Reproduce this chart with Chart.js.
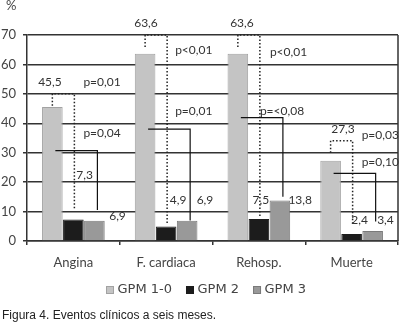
<!DOCTYPE html>
<html>
<head>
<meta charset="utf-8">
<script src="https://cdn.jsdelivr.net/npm/chart.js@4/dist/chart.umd.min.js"></script>
<style>
html,body{margin:0;padding:0;background:#fff;}
#wrap{width:400px;height:329px;position:relative;}
</style>
</head>
<body>
<div id="wrap"><canvas id="c" width="400" height="329"></canvas></div>
<script>
// ---- data ----
const categories = ['Angina', 'F. cardiaca', 'Rehosp.', 'Muerte'];
const seriesNames = ['GPM 1-0', 'GPM 2', 'GPM 3'];
const gpm10 = [45.5, 63.6, 63.6, 27.3];
const gpm2 = [7.3, 4.9, 7.5, 2.4];
const gpm3 = [6.9, 6.9, 13.8, 3.4];
const yTicks = [0, 10, 20, 30, 40, 50, 60, 70];
// p values: GPM 1-0 vs GPM 2 (dotted bracket) and GPM 1-0 vs GPM 3 (solid bracket)
const pVsGpm2 = ['p=0,01', 'p<0,01', 'p<0,01', 'p=0,03'];
const pVsGpm3 = ['p=0,04', 'p=0,01', 'p=<0,08', 'p=0,10'];
// bracket heights (in % units)
const bracketGpm2 = [50, 70, 70, 34.1];
const bracketGpm3 = [30.7, 38, 41.9, 23];
const yAxisUnit = '%';
const caption = 'Figura 4. Eventos clínicos a seis meses.';

// ---- layout of annotations (styling, not data) ----
const L = {
  v1dx: [-2.4, 0.9, 4.1, 12.4],
  pDotDx: [10, 9, 11, 10], pDotY: [54.0, 64.7, 64.3, 36.0],
  pSolDx: [10, 9, 1, 10], pSolY: [36.7, 44.3, 44.3, 26.7],
  v2dx: [11.3, 11.9, 2, 7.9], v2y: [22.4, 13.9, 13.9, 7.1],
  v3dx: [23.1, 17.8, 20.3, 12.8], v3y: [8.5, 13.9, 13.9, 7.1],
  dotEnd: [10.5, 6.1, 7.8, 5.4],
  solEnd: [10.5, 7, 15, 6.6]
};
const fmt = v => v.toFixed(1).replace('.', ',');
const FONT = 'Lato, "Open Sans", sans-serif';

const annotPlugin = {
  id: 'annot',
  beforeDatasetsDraw(chart) {
    const {ctx, chartArea} = chart;
    ctx.save();
    ctx.strokeStyle = '#333';
    ctx.lineWidth = 1.5;
    ctx.beginPath();
    ctx.moveTo(chartArea.right, chartArea.top);
    ctx.lineTo(chartArea.right, chartArea.bottom);
    ctx.stroke();
    ctx.restore();
  },
  afterDatasetsDraw(chart) {
    const {ctx} = chart;
    const ys = chart.scales.y;
    const m1 = chart.getDatasetMeta(0).data;
    const m2 = chart.getDatasetMeta(1).data;
    const m3 = chart.getDatasetMeta(2).data;
    ctx.save();
    ctx.font = '12px ' + FONT;
    ctx.fillStyle = '#333';
    ctx.textBaseline = 'middle';
    for (let i = 0; i < categories.length; i++) {
      const x1 = m1[i].x, x2 = m2[i].x, x3 = m3[i].x;
      // dotted bracket
      const yb = ys.getPixelForValue(bracketGpm2[i]);
      ctx.strokeStyle = '#222';
      ctx.lineWidth = 1.5;
      ctx.setLineDash([1.5, 2]);
      ctx.beginPath();
      ctx.moveTo(x1, yb + 12);
      ctx.lineTo(x1, yb);
      ctx.lineTo(x2 + 1, yb);
      ctx.lineTo(x2 + 1, ys.getPixelForValue(L.dotEnd[i]));
      ctx.stroke();
      // solid bracket
      const ysol = ys.getPixelForValue(bracketGpm3[i]);
      ctx.setLineDash([]);
      ctx.lineWidth = 1.2;
      ctx.strokeStyle = '#111';
      ctx.beginPath();
      ctx.moveTo(x1 + 3, ysol);
      ctx.lineTo(x3 + 3, ysol);
      ctx.lineTo(x3 + 3, ys.getPixelForValue(L.solEnd[i]));
      ctx.stroke();
      // texts
      ctx.textAlign = 'center';
      ctx.fillText(fmt(gpm10[i]), x1 + L.v1dx[i], yb - 12);
      ctx.fillText(fmt(gpm2[i]), x2 + L.v2dx[i], ys.getPixelForValue(L.v2y[i]));
      ctx.fillText(fmt(gpm3[i]), x3 + L.v3dx[i], ys.getPixelForValue(L.v3y[i]));
      ctx.textAlign = 'left';
      ctx.fillText(pVsGpm2[i], x2 + L.pDotDx[i], ys.getPixelForValue(L.pDotY[i]));
      ctx.fillText(pVsGpm3[i], x2 + L.pSolDx[i], ys.getPixelForValue(L.pSolY[i]));
    }
    ctx.restore();
  },
  afterDraw(chart) {
    const {ctx} = chart;
    ctx.save();
    ctx.fillStyle = '#444';
    ctx.font = '13px ' + FONT;
    ctx.textAlign = 'left';
    ctx.textBaseline = 'middle';
    ctx.fillText(yAxisUnit, 6, 6);
    // legend
    ctx.font = '13px "DejaVu Sans", sans-serif';
    let x = 106;
    const yc = 290;
    chart.data.datasets.forEach(ds => {
      ctx.fillStyle = ds.backgroundColor;
      ctx.fillRect(x, yc - 4, 8, 8);
      ctx.strokeStyle = ds.borderColor;
      ctx.lineWidth = 1;
      ctx.strokeRect(x + 0.5, yc - 3.5, 7, 7);
      ctx.fillStyle = '#444';
      ctx.fillText(ds.label, x + 11.5, yc);
      x += 11.5 + ctx.measureText(ds.label).width + 14;
    });
    // caption
    ctx.fillStyle = '#222';
    ctx.font = '12px "Liberation Sans", Arial, sans-serif';
    ctx.fillText(caption, 2, 316);
    ctx.restore();
  }
};

new Chart(document.getElementById('c'), {
  type: 'bar',
  data: {
    labels: categories,
    datasets: [
      {label: seriesNames[0], data: gpm10, backgroundColor: '#c4c4c4', borderColor: '#a2a2a2', borderWidth: 1},
      {label: seriesNames[1], data: gpm2, backgroundColor: '#1c1c1c', borderColor: '#1c1c1c', borderWidth: 1},
      {label: seriesNames[2], data: gpm3, backgroundColor: '#999999', borderColor: '#7a7a7a', borderWidth: 1}
    ]
  },
  options: {
    responsive: false,
    animation: false,
    devicePixelRatio: 1,
    layout: {padding: {top: 35, left: 0, right: 2, bottom: 0}},
    datasets: {bar: {categoryPercentage: 0.68, barPercentage: 0.98}},
    scales: {
      x: {
        grid: {display: true, drawOnChartArea: false, offset: true, tickLength: 4, color: '#333', lineWidth: 1.5},
        border: {display: true, color: '#333', width: 1.5},
        ticks: {font: {family: FONT, size: 13}, color: '#444', padding: 10},
        afterFit(s) { s.height = 88; }
      },
      y: {
        min: 0, max: 70,
        afterBuildTicks(s) { s.ticks = yTicks.map(v => ({value: v})); },
        grid: {color: '#333', lineWidth: 1.5, tickLength: 4},
        border: {display: true, color: '#333', width: 1.5},
        ticks: {font: {family: FONT, size: 13}, color: '#444', padding: 7},
        afterFit(s) { s.width = 27; }
      }
    },
    plugins: {
      legend: {display: false},
      tooltip: {enabled: false}
    }
  },
  plugins: [annotPlugin]
});
</script>
</body>
</html>
